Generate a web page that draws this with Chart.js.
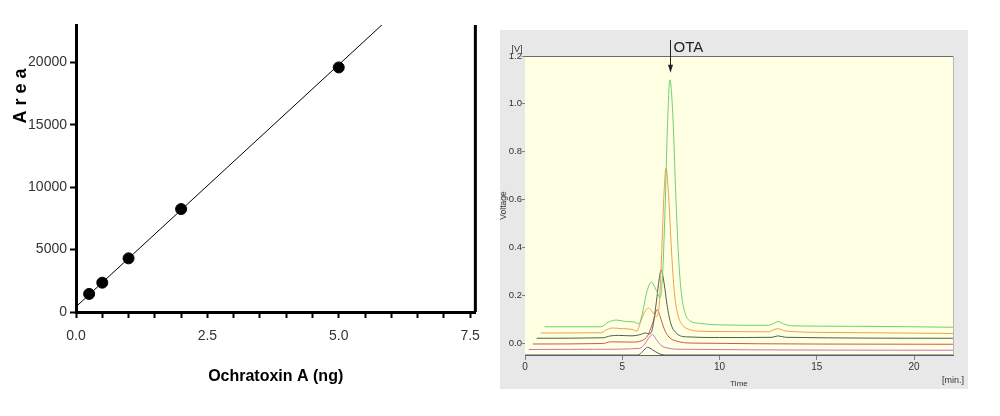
<!DOCTYPE html>
<html>
<head>
<meta charset="utf-8">
<script src="https://cdn.jsdelivr.net/npm/chart.js@4.4.1/dist/chart.umd.min.js"></script>
<style>
  body { margin: 0; background: #fff; width: 1000px; height: 416px; overflow: hidden; position: relative; }
  #calib { position: absolute; left: 0; top: 0; }
  #chrom { position: absolute; left: 500px; top: 30px; background: #e8e8e8; }
</style>
</head>
<body>
<canvas id="calib" width="490" height="416"></canvas>
<canvas id="chrom" width="468" height="359"></canvas>
<script>
// Calibration curve data
const amounts = [0.25, 0.5, 1.0, 2.0, 5.0];
const areas = [1450, 2350, 4300, 8250, 19600];
const fitX = [0, 6.0];
const fitY = [420, 23700];
const calibXTicks = [0, 0.5, 1, 1.5, 2, 2.5, 3, 3.5, 4, 4.5, 5, 5.5, 6, 6.5, 7, 7.5];
const calibXLabels = [0, 2.5, 5, 7.5];
const calibYTicks = [0, 5000, 10000, 15000, 20000];

// Chromatogram traces (time in min, voltage in V)
const greenT = [1.0, 3.9, 4.3, 4.7, 5.2, 5.6, 5.85, 6.05, 6.25, 6.5, 6.75, 6.95, 7.08, 7.2, 7.32, 7.45, 7.6, 7.75, 7.9, 8.05, 8.25, 8.5, 9.0, 10, 12.5, 12.8, 13.0, 13.3, 13.7, 17, 22];
const greenV = [0.068, 0.068, 0.088, 0.096, 0.09, 0.088, 0.08, 0.13, 0.21, 0.255, 0.22, 0.19, 0.3, 0.56, 0.9, 1.1, 0.95, 0.62, 0.35, 0.2, 0.12, 0.092, 0.082, 0.076, 0.074, 0.082, 0.09, 0.08, 0.072, 0.07, 0.066];
const orangeT = [0.8, 3.9, 4.2, 4.5, 5.0, 5.5, 5.75, 5.95, 6.15, 6.35, 6.55, 6.75, 6.9, 7.02, 7.13, 7.25, 7.38, 7.52, 7.68, 7.85, 8.1, 8.4, 8.9, 10, 12.5, 12.8, 13.0, 13.4, 16, 22];
const orangeV = [0.042, 0.043, 0.056, 0.063, 0.06, 0.057, 0.05, 0.09, 0.13, 0.146, 0.13, 0.11, 0.16, 0.36, 0.6, 0.73, 0.62, 0.4, 0.21, 0.12, 0.075, 0.058, 0.05, 0.048, 0.047, 0.056, 0.06, 0.05, 0.044, 0.04];
const darkT = [0.6, 4.0, 4.4, 4.8, 5.5, 5.9, 6.2, 6.4, 6.55, 6.75, 6.9, 7.0, 7.15, 7.3, 7.5, 7.8, 8.3, 10, 12.7, 13.0, 13.4, 22];
const darkV = [0.02, 0.022, 0.03, 0.032, 0.03, 0.035, 0.042, 0.038, 0.06, 0.17, 0.27, 0.305, 0.25, 0.16, 0.08, 0.04, 0.026, 0.023, 0.024, 0.03, 0.024, 0.02];
const redT = [0.4, 4.0, 4.4, 5.5, 6.0, 6.3, 6.55, 6.8, 6.95, 7.15, 7.4, 7.8, 8.5, 22];
const redV = [-0.004, -0.002, 0.005, 0.004, 0.01, 0.03, 0.08, 0.14, 0.11, 0.06, 0.025, 0.008, 0.0, -0.005];
const magentaT = [0.2, 4.0, 5.9, 6.15, 6.35, 6.55, 6.75, 7.0, 7.4, 8.0, 22];
const magentaV = [-0.027, -0.026, -0.022, -0.005, 0.02, 0.035, 0.015, -0.01, -0.022, -0.026, -0.03];
const blueT = [0, 5.8, 6.05, 6.3, 6.55, 6.9, 7.2, 22];
const blueV = [-0.05, -0.05, -0.035, -0.018, -0.028, -0.045, -0.05, -0.05];
const chromXTicks = [0, 5, 10, 15, 20];
const chromYTicks = [0, 0.2, 0.4, 0.6, 0.8, 1.0, 1.2];
const otaTime = 7.45;
const otaTip = 1.13;

const SANS = "'Liberation Sans', Arial, sans-serif";

function toPoints(xs, ys) {
  return xs.map((x, i) => ({ x: x, y: ys[i] }));
}

// Left chart: calibration line
const calibExtras = {
  id: 'calibExtras',
  afterDraw(chart) {
    const { ctx, chartArea } = chart;
    ctx.save();
    ctx.strokeStyle = '#000';
    ctx.lineWidth = 3;
    ctx.beginPath();
    ctx.moveTo(chartArea.right, chartArea.top);
    ctx.lineTo(chartArea.right, chartArea.bottom);
    ctx.stroke();
    ctx.translate(21, chartArea.top + 71);
    ctx.rotate(-Math.PI / 2);
    ctx.fillStyle = '#000';
    ctx.font = 'bold 18px ' + SANS;
    ctx.textAlign = 'center';
    ctx.textBaseline = 'middle';
    ctx.fillText('A r e a', 0, 0);
    ctx.restore();
  }
};

new Chart(document.getElementById('calib'), {
  type: 'scatter',
  data: {
    datasets: [
      { data: toPoints(amounts, areas), backgroundColor: '#000', borderColor: '#000', pointRadius: 5.5 },
      { data: toPoints(fitX, fitY), showLine: true, borderColor: '#000', borderWidth: 1, pointRadius: 0 }
    ]
  },
  options: {
    responsive: false,
    animation: false,
    layout: { padding: { top: 25, right: 12, left: 0, bottom: 0 } },
    plugins: { legend: { display: false }, tooltip: { enabled: false } },
    scales: {
      x: {
        type: 'linear', min: 0, max: 7.6,
        afterBuildTicks: s => { s.ticks = calibXTicks.map(v => ({ value: v })); },
        afterFit: s => { s.height = 104; },
        grid: { drawOnChartArea: false, tickLength: 6, tickWidth: 2, tickColor: '#000' },
        border: { color: '#000', width: 3 },
        ticks: {
          autoSkip: false, maxRotation: 0, padding: 10, color: '#333',
          font: { family: SANS, size: 14 },
          callback: v => calibXLabels.includes(v) ? v.toFixed(1) : ''
        },
        title: {
          display: true, text: 'Ochratoxin A (ng)', color: '#000',
          font: { family: SANS, size: 16, weight: 'bold' }, padding: { bottom: 30 }
        }
      },
      y: {
        min: 0, max: 23000,
        afterBuildTicks: s => { s.ticks = calibYTicks.map(v => ({ value: v })); },
        afterFit: s => { s.width = 76; },
        grid: { drawOnChartArea: false, tickLength: 6, tickWidth: 2, tickColor: '#000' },
        border: { color: '#000', width: 3 },
        ticks: { padding: 3, color: '#333', font: { family: SANS, size: 14 }, callback: v => String(v) }
      }
    }
  },
  plugins: [calibExtras]
});

// Right chart: chromatograms
const chromExtras = {
  id: 'chromExtras',
  beforeDraw(chart) {
    const { ctx, chartArea } = chart;
    ctx.save();
    ctx.fillStyle = '#ffffe4';
    ctx.fillRect(chartArea.left, chartArea.top, chartArea.right - chartArea.left, chartArea.bottom - chartArea.top);
    ctx.restore();
  },
  afterDraw(chart) {
    const { ctx, chartArea, scales } = chart;
    ctx.save();
    ctx.strokeStyle = '#6a6a6a';
    ctx.lineWidth = 1;
    ctx.beginPath();
    ctx.moveTo(chartArea.left, chartArea.top + 0.5);
    ctx.lineTo(chartArea.right, chartArea.top + 0.5);
    ctx.stroke();
    ctx.strokeStyle = '#b8b8b8';
    ctx.beginPath();
    ctx.moveTo(chartArea.right + 0.5, chartArea.top);
    ctx.lineTo(chartArea.right + 0.5, chartArea.bottom);
    ctx.stroke();

    // OTA arrow
    const ax = Math.round(scales.x.getPixelForValue(otaTime)) + 0.5;
    const tip = scales.y.getPixelForValue(otaTip);
    ctx.strokeStyle = '#222';
    ctx.fillStyle = '#222';
    ctx.beginPath();
    ctx.moveTo(ax, chartArea.top - 16);
    ctx.lineTo(ax, tip - 6);
    ctx.stroke();
    ctx.beginPath();
    ctx.moveTo(ax - 2.5, tip - 8);
    ctx.lineTo(ax + 2.5, tip - 8);
    ctx.lineTo(ax, tip);
    ctx.closePath();
    ctx.fill();
    ctx.font = '15px ' + SANS;
    ctx.textBaseline = 'middle';
    ctx.textAlign = 'left';
    ctx.fillText('OTA', ax + 3, chartArea.top - 8);

    ctx.fillStyle = '#333';
    ctx.font = '9px ' + SANS;
    ctx.textAlign = 'center';
    ctx.fillText('[V]', chartArea.left - 8, chartArea.top - 6);
    ctx.fillText('[min.]', chartArea.right, chartArea.bottom + 26);
    ctx.restore();
  }
};

function trace(xs, ys, color) {
  return {
    data: toPoints(xs, ys), borderColor: color, borderWidth: 1, pointRadius: 0,
    tension: 0.4, cubicInterpolationMode: 'monotone', fill: false
  };
}

new Chart(document.getElementById('chrom'), {
  type: 'line',
  data: {
    datasets: [
      trace(greenT, greenV, '#72cf72'),
      trace(orangeT, orangeV, '#eea04a'),
      trace(darkT, darkV, '#4f604f'),
      trace(redT, redV, '#c85a50'),
      trace(magentaT, magentaV, '#cc70c8'),
      trace(blueT, blueV, '#505088')
    ]
  },
  options: {
    responsive: false,
    animation: false,
    layout: { padding: { top: 26, right: 15, left: 0, bottom: 0 } },
    plugins: { legend: { display: false }, tooltip: { enabled: false } },
    scales: {
      x: {
        type: 'linear', min: 0, max: 22,
        afterBuildTicks: s => { s.ticks = chromXTicks.map(v => ({ value: v })); },
        afterFit: s => { s.height = 34; },
        grid: { drawOnChartArea: false, tickLength: 5, color: '#808080' },
        border: { color: '#606060', width: 1 },
        ticks: { autoSkip: false, maxRotation: 0, padding: 1, color: '#333', font: { family: SANS, size: 10 } },
        title: { display: true, text: 'Time', color: '#333', padding: 0, font: { family: SANS, size: 8, lineHeight: 1.2 } }
      },
      y: {
        min: -0.05, max: 1.2,
        afterBuildTicks: s => { s.ticks = chromYTicks.map(v => ({ value: v })); },
        afterFit: s => { s.width = 25; },
        grid: { drawOnChartArea: false, tickLength: 3, color: '#808080' },
        border: { display: false },
        ticks: { padding: 0, color: '#333', font: { family: SANS, size: 9.5 }, callback: v => v.toFixed(1) },
        title: { display: true, text: 'Voltage', color: '#333', padding: 0, font: { family: SANS, size: 8.5, lineHeight: 0.9 } }
      }
    }
  },
  plugins: [chromExtras]
});
</script>
</body>
</html>
